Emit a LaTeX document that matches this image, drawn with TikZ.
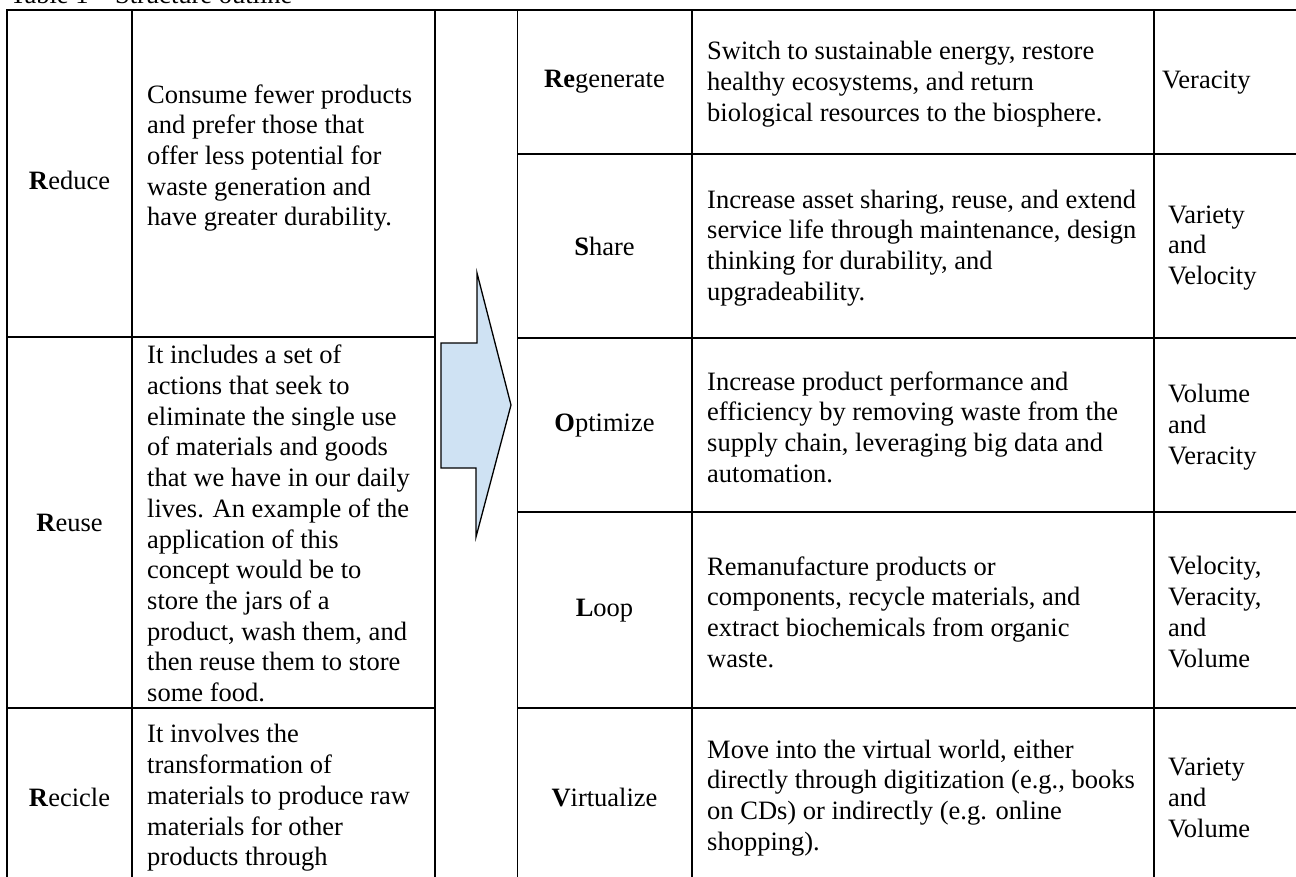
\documentclass[tikz,border=0pt]{standalone}
\usepackage{fontspec}
\setmainfont{Liberation Serif}
\definecolor{arrowfill}{RGB}{207,226,243}
\begin{document}
\begin{tikzpicture}[x=1pt,y=-1pt,
  txt/.style={inner sep=0pt, font=\fontsize{26.5}{30.7}\selectfont, align=left, anchor=west},
  lbl/.style={inner sep=0pt, font=\fontsize{26.5}{30.7}\selectfont, anchor=center},
  rule/.style={line width=1.8pt, line cap=rect},
  bigarrow/.style={draw, line width=1.3pt, fill=arrowfill, line join=miter}]
\useasboundingbox (0,0) rectangle (1296,876);
\fill[white] (0,0) rectangle (1296,876);
\begin{scope}
\clip (0,0) rectangle (1296,876);
% caption
\node[inner sep=0pt, font=\fontsize{26.5}{30.7}\selectfont, anchor=base west] (cap) at (10,3.3) {Table 1 -- Structure outline};
% grid
\draw[rule] (7,890) -- (7,10) -- (1300,10);
\draw[rule] (132,10) -- (132,890);
\draw[rule] (435,10) -- (435,890);
\draw[rule] (517.5,10) -- (517.5,890);
\draw[rule] (692,10) -- (692,890);
\draw[rule] (1154,10) -- (1154,890);
\draw[rule] (7,337) -- (435,337);
\draw[rule] (7,708) -- (435,708);
\draw[rule] (517.5,154) -- (1300,154);
\draw[rule] (517.5,338) -- (1300,338);
\draw[rule] (517.5,512) -- (1300,512);
\draw[rule] (517.5,708) -- (1300,708);
% arrow
\draw[bigarrow] (441,343) -- (477,343) -- (477,273) -- (511,405) -- (476,537) -- (476,468) -- (441,468) -- cycle;
% left table
\node[lbl] (reduce) at (69.5,180) {\textbf{R}educe};
\node[txt] (reduced) at (147,158) {Consume fewer products\\and prefer those that\\offer less potential for\\waste generation and\\have greater durability.};
\node[lbl] (reuse) at (69.5,522.5) {\textbf{R}euse};
\node[txt] (reused) at (147,523.5) {It includes a set of\\actions that seek to\\eliminate the single use\\of materials and goods\\that we have in our daily\\lives. An example of the\\application of this\\concept would be to\\store the jars of a\\product, wash them, and\\then reuse them to store\\some food.};
\node[lbl] (recicle) at (69.5,797) {\textbf{R}ecicle};
\node[txt] (recicled) at (147,798) {It involves the\\transformation of\\materials to produce raw\\materials for other\\products through};
% right table
\node[lbl] (regen) at (604.5,82) {\textbf{Re}generate};
\node[txt] (regend) at (707,84) {Switch to sustainable energy, restore\\healthy ecosystems, and return\\biological resources to the biosphere.};
\node[txt] (regenv) at (1162,83) {Veracity};
\node[lbl] (share) at (604.5,246) {\textbf{S}hare};
\node[txt] (shared) at (707,248) {Increase asset sharing, reuse, and extend\\service life through maintenance, design\\thinking for durability, and\\upgradeability.};
\node[txt] (sharev) at (1168,248) {Variety\\and\\Velocity};
\node[lbl] (optim) at (604.5,426) {\textbf{O}ptimize};
\node[txt] (optimd) at (707,427) {Increase product performance and\\efficiency by removing waste from the\\supply chain, leveraging big data and\\automation.};
\node[txt] (optimv) at (1168,427) {Volume\\and\\Veracity};
\node[lbl] (loop) at (604.5,611) {\textbf{L}oop};
\node[txt] (loopd) at (707,612) {Remanufacture products or\\components, recycle materials, and\\extract biochemicals from organic\\waste.};
\node[txt] (loopv) at (1168,612) {Velocity,\\Veracity,\\and\\Volume};
\node[lbl] (virt) at (604.5,797) {\textbf{V}irtualize};
\node[txt] (virtd) at (707,798) {Move into the virtual world, either\\directly through digitization (e.g., books\\on CDs) or indirectly (e.g. online\\shopping).};
\node[txt] (virtv) at (1168,798) {Variety\\and\\Volume};
\end{scope}
\end{tikzpicture}
\end{document}
